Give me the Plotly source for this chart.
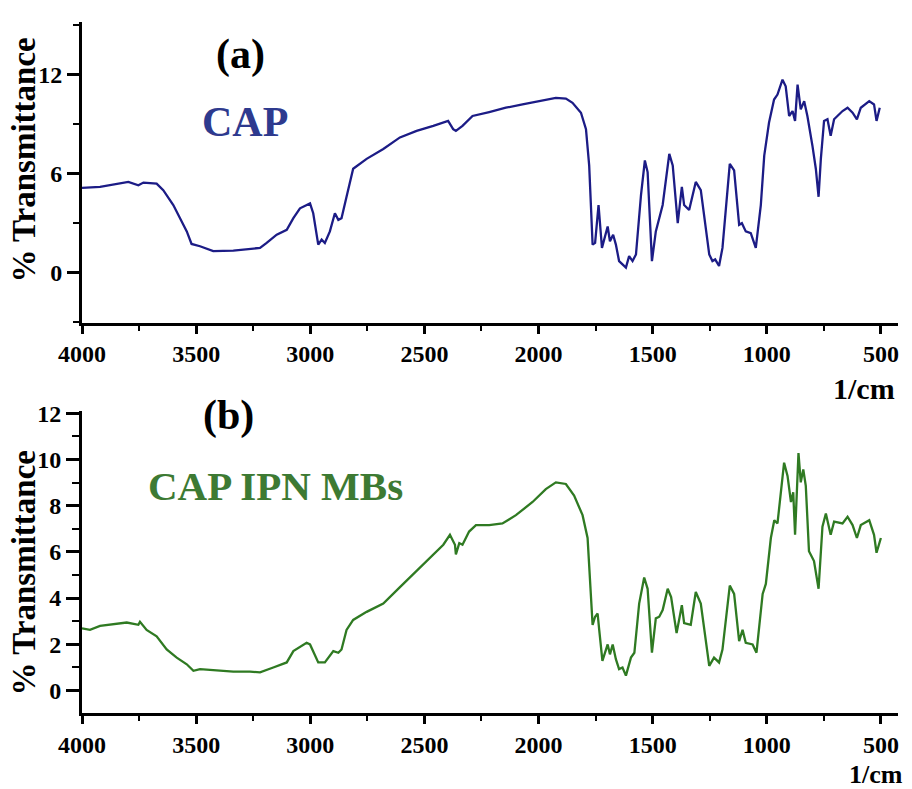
import plotly.graph_objects as go

# ---- data ----
cap_wavenumber = [4000, 3921, 3797, 3753, 3731, 3673, 3644, 3600, 3541, 3520, 3483, 3425, 3337, 3220,
                  3191, 3147, 3103, 3074, 3045, 3001, 2987, 2965, 2950, 2936, 2914, 2892, 2877, 2863,
                  2841, 2812, 2753, 2680, 2607, 2534, 2461, 2396, 2374, 2362, 2333, 2289, 2216, 2143,
                  2070, 1997, 1924, 1880, 1851, 1814, 1792, 1778, 1770, 1763, 1752, 1737, 1722, 1712,
                  1697, 1687, 1673, 1661, 1647, 1617, 1603, 1588, 1573, 1551, 1534, 1522, 1503, 1486,
                  1456, 1427, 1412, 1390, 1372, 1362, 1340, 1311, 1289, 1252, 1238, 1226, 1209, 1194,
                  1162, 1143, 1121, 1109, 1092, 1070, 1048, 1026, 1011, 990, 968, 953, 931, 917, 902,
                  887, 876, 865, 851, 836, 822, 800, 785, 773, 763, 749, 734, 720, 705, 668, 646, 624,
                  605, 588, 551, 530, 519, 505]
cap_transmittance = [5.12, 5.18, 5.48, 5.28, 5.44, 5.38, 4.98, 4.08, 2.48, 1.72, 1.58, 1.28, 1.32, 1.48,
                     1.78, 2.28, 2.58, 3.28, 3.88, 4.18, 3.58, 1.68, 1.98, 1.78, 2.48, 3.58, 3.18, 3.28,
                     4.58, 6.28, 6.88, 7.48, 8.18, 8.58, 8.88, 9.18, 8.68, 8.58, 8.88, 9.48, 9.72, 9.98,
                     10.18, 10.38, 10.58, 10.54, 10.28, 9.68, 8.68, 6.48, 4.08, 1.68, 1.78, 4.08, 1.48, 2.08,
                     2.78, 1.88, 2.28, 1.68, 0.68, 0.28, 0.98, 0.68, 1.08, 4.68, 6.78, 6.08, 0.68, 2.48,
                     4.08, 7.18, 6.48, 2.98, 5.18, 4.08, 3.78, 5.48, 4.98, 1.08, 0.68, 0.78, 0.38, 1.48,
                     6.58, 6.18, 2.88, 2.98, 2.48, 2.38, 1.48, 4.08, 7.08, 9.08, 10.48, 10.78, 11.68, 11.28, 9.48,
                     9.78, 9.18, 11.38, 9.88, 10.38, 9.48, 7.68, 6.28, 4.58, 6.88, 9.18, 9.28, 8.28, 9.28, 9.78, 9.98, 9.68,
                     9.28, 9.98, 10.38, 10.18, 9.18, 9.98]

ipn_wavenumber = [4000, 3965, 3921, 3848, 3804, 3753, 3746, 3717, 3673, 3629, 3585, 3541, 3512, 3483,
                  3410, 3337, 3264, 3220, 3162, 3103, 3074, 3016, 3001, 2965, 2936, 2914, 2899, 2877,
                  2863, 2841, 2812, 2753, 2680, 2607, 2534, 2461, 2417, 2388, 2366, 2362, 2347, 2333,
                  2304, 2274, 2216, 2158, 2099, 2026, 1968, 1924, 1880, 1844, 1807, 1785, 1770, 1763,
                  1752, 1741, 1734, 1720, 1697, 1687, 1675, 1661, 1647, 1632, 1617, 1595, 1580, 1559,
                  1537, 1522, 1503, 1486, 1471, 1456, 1434, 1419, 1395, 1372, 1362, 1333, 1311, 1289,
                  1252, 1231, 1209, 1194, 1162, 1143, 1121, 1106, 1092, 1062, 1045, 1018, 1004, 982,
                  967, 953, 924, 909, 894, 884, 876, 861, 851, 840, 829, 815, 793, 773, 756, 741, 720,
                  705, 668, 646, 624, 605, 588, 551, 530, 519, 500]
ipn_transmittance = [2.69, 2.62, 2.79, 2.88, 2.94, 2.84, 2.97, 2.62, 2.34, 1.77, 1.42, 1.13, 0.85, 0.92,
                     0.85, 0.81, 0.81, 0.78, 0.99, 1.21, 1.70, 2.06, 1.99, 1.21, 1.21, 1.49, 1.70, 1.63,
                     1.77, 2.62, 3.05, 3.40, 3.76, 4.47, 5.18, 5.89, 6.31, 6.74, 6.31, 5.89, 6.38, 6.31,
                     6.88, 7.16, 7.16, 7.23, 7.59, 8.16, 8.72, 9.01, 8.94, 8.44, 7.59, 6.60, 4.04, 2.84,
                     3.19, 3.33, 2.62, 1.28, 1.99, 1.56, 1.99, 1.35, 0.92, 0.99, 0.64, 1.42, 1.63, 3.76,
                     4.89, 4.40, 1.63, 3.12, 3.19, 3.48, 4.40, 4.04, 2.48, 3.69, 2.91, 2.84, 4.26, 3.76,
                     1.06, 1.42, 1.21, 1.77, 4.54, 4.18, 2.13, 2.62, 2.06, 1.99, 1.63, 4.18, 4.61, 6.60,
                     7.37, 7.23, 9.86, 9.29, 8.16, 8.58, 6.74, 10.28, 9.01, 9.57, 8.86, 6.03, 5.60, 4.40, 7.09, 7.66, 6.74,
                     7.31, 7.23, 7.52, 7.16, 6.60, 7.16, 7.37, 6.74, 5.96, 6.60]

x_tick_vals = [4000, 3500, 3000, 2500, 2000, 1500, 1000, 500]
top_y_ticks = [0, 6, 12]
bottom_y_ticks = [0, 2, 4, 6, 8, 10, 12]

FONT = "Liberation Serif"
fig = go.Figure()
fig.add_trace(go.Scatter(x=cap_wavenumber, y=cap_transmittance, mode="lines",
                         line=dict(color="#1c1c86", width=2.3), xaxis="x", yaxis="y",
                         showlegend=False))
fig.add_trace(go.Scatter(x=ipn_wavenumber, y=ipn_transmittance, mode="lines",
                         line=dict(color="#2f7a22", width=2.3), xaxis="x2", yaxis="y2",
                         showlegend=False))

tickfont = dict(family=FONT, size=24, color="black", weight="bold")
xcommon = dict(range=[4000, 425], tickvals=x_tick_vals, ticktext=[str(v) for v in x_tick_vals],
               showline=True, linecolor="black", linewidth=3, ticks="outside", ticklen=8,
               tickwidth=3, tickcolor="black", showgrid=False, zeroline=False, tickfont=tickfont,
               minor=dict(dtick=250, tick0=0, ticks="outside", ticklen=5, tickwidth=2, tickcolor="black"))
fig.update_layout(
    width=912, height=789,
    margin=dict(l=82, r=14, t=15, b=76),
    plot_bgcolor="white", paper_bgcolor="white",
    xaxis=dict(anchor="y", **xcommon),
    xaxis2=dict(anchor="y2", **xcommon),
    yaxis=dict(domain=[0.565, 1.0], range=[-3.05, 15.18], tickvals=top_y_ticks,
               showline=True, linecolor="black", linewidth=3, ticks="outside", ticklen=12,
               tickwidth=3, tickcolor="black", showgrid=False, zeroline=False, tickfont=tickfont,
               minor=dict(dtick=3, tick0=0, ticks="outside", ticklen=6, tickwidth=2, tickcolor="black")),
    yaxis2=dict(domain=[0.0, 0.437], range=[-0.98, 12.1], tickvals=bottom_y_ticks,
                showline=True, linecolor="black", linewidth=3, ticks="outside", ticklen=13,
                tickwidth=3, tickcolor="black", showgrid=False, zeroline=False, tickfont=tickfont,
                minor=dict(dtick=1, tick0=0, ticks="outside", ticklen=7, tickwidth=2, tickcolor="black")),
)

def px_x(p):
    return (p - 82) / 816.0

def px_y(p):
    return (713 - p) / 698.0

anns = [
    dict(text="(a)", x=px_x(240), y=px_y(48), size=42, color="black"),
    dict(text="(b)", x=px_x(228), y=px_y(412), size=42, color="black"),
    dict(text="CAP", x=px_x(245), y=px_y(116), size=42, color="#2e3a8e"),
    dict(text="CAP IPN MBs", x=px_x(275), y=px_y(484), size=41, color="#3d7a33"),
    dict(text="1/cm", x=px_x(864), y=px_y(385), size=30, color="black"),
    dict(text="1/cm", x=px_x(876), y=px_y(775), size=26, color="black"),
]
for a in anns:
    fig.add_annotation(text=a["text"], x=a["x"], y=a["y"], xref="paper", yref="paper",
                       showarrow=False, xanchor="center", yanchor="middle",
                       font=dict(family=FONT, size=a["size"], color=a["color"], weight="bold"))

for cy in (155, 572):
    fig.add_annotation(text="% Transmittance", x=px_x(24), y=px_y(cy), xref="paper", yref="paper",
                       showarrow=False, textangle=-90, xanchor="center", yanchor="middle",
                       font=dict(family=FONT, size=33, color="black", weight="bold"))

fig.write_html("out.html")
